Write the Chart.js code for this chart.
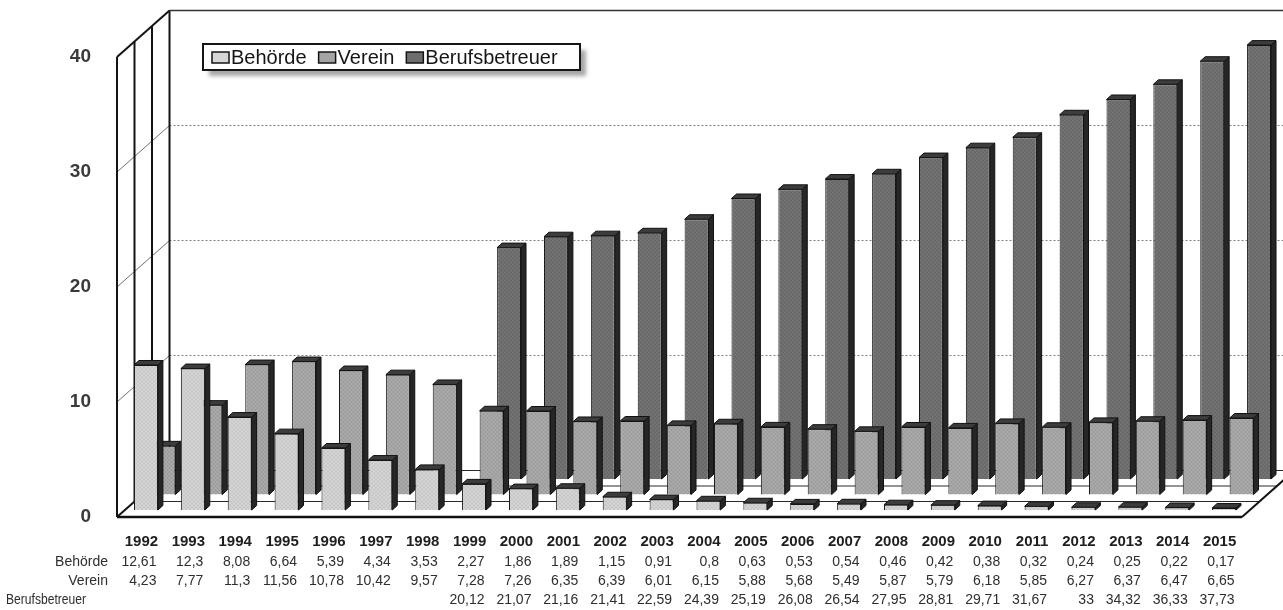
<!DOCTYPE html>
<html>
<head>
<meta charset="utf-8">
<script src="https://cdn.jsdelivr.net/npm/chart.js@4/dist/chart.umd.min.js"></script>
<style>
  html, body { margin: 0; padding: 0; background: #ffffff; }
  #wrap { width: 1283px; height: 610px; position: relative; }
</style>
</head>
<body>
<div id="wrap"><canvas id="c" width="1283" height="610"></canvas></div>
<script>
// Anteile je Betreuerart, 1992–2015 (Prozent)
const years = ['1992','1993','1994','1995','1996','1997','1998','1999','2000','2001','2002','2003',
               '2004','2005','2006','2007','2008','2009','2010','2011','2012','2013','2014','2015'];
const behoerde = [12.61, 12.3, 8.08, 6.64, 5.39, 4.34, 3.53, 2.27, 1.86, 1.89, 1.15, 0.91,
                  0.8, 0.63, 0.53, 0.54, 0.46, 0.42, 0.38, 0.32, 0.24, 0.25, 0.22, 0.17];
const verein = [4.23, 7.77, 11.3, 11.56, 10.78, 10.42, 9.57, 7.28, 7.26, 6.35, 6.39, 6.01,
                6.15, 5.88, 5.68, 5.49, 5.87, 5.79, 6.18, 5.85, 6.27, 6.37, 6.47, 6.65];
const berufsbetreuer = [null, null, null, null, null, null, null, 20.12, 21.07, 21.16, 21.41, 22.59,
                        24.39, 25.19, 26.08, 26.54, 27.95, 28.81, 29.71, 31.67, 33, 34.32, 36.33, 37.73];
const seriesNames = ['Behörde', 'Verein', 'Berufsbetreuer'];
const valueMin = 0, valueMax = 40, valueStep = 10;

// Depth geometry of the pseudo-3D frame (pixels per series row)
const ROW_DX = 17.5, ROW_DY = -15.5, ROWS = 3;
const BAR_DX = 5.5, BAR_DY = -7;          // first row bars sit slightly behind the front edge
const SIDE_DX = 5, SIDE_DY = -4.5;        // thickness of each column
const FONT = '"Liberation Sans", Arial, sans-serif';

function rowShift(i) { return [BAR_DX + ROW_DX * i, BAR_DY + ROW_DY * i]; }

// halftone-like fill for column faces
function texture(base, light, dark) {
  const c = document.createElement('canvas');
  c.width = 4; c.height = 4;
  const g = c.getContext('2d');
  g.fillStyle = base; g.fillRect(0, 0, 4, 4);
  g.fillStyle = dark; g.fillRect(0, 0, 1, 1); g.fillRect(2, 2, 1, 1);
  g.fillStyle = light; g.fillRect(2, 0, 1, 1); g.fillRect(0, 2, 1, 1);
  return g.createPattern(c, 'repeat');
}

const faceColors = ['#d6d6d6', '#a4a4a4', '#6e6e6e'];
const faceFills = [
  texture('#cfcfcf', '#dcdcdc', '#bdbdbd'),
  texture('#a4a4a4', '#b2b2b2', '#939393'),
  texture('#6e6e6e', '#7c7c7c', '#5f5f5f')
];

function seg(ctx, x1, y1, x2, y2) {
  ctx.beginPath(); ctx.moveTo(x1, y1); ctx.lineTo(x2, y2); ctx.stroke();
}
function poly(ctx, pts) {
  ctx.beginPath();
  ctx.moveTo(pts[0][0], pts[0][1]);
  for (let k = 1; k < pts.length; k++) ctx.lineTo(pts[k][0], pts[k][1]);
  ctx.closePath(); ctx.fill(); ctx.stroke();
}

// walls, floor and wall gridlines
const frame3d = {
  id: 'frame3d',
  beforeDatasetsDraw(chart) {
    const { ctx, chartArea: a, scales: { y } } = chart;
    const bx = ROW_DX * ROWS, by = ROW_DY * ROWS;
    const y0 = y.getPixelForValue(valueMin), yt = y.getPixelForValue(valueMax);
    ctx.save();
    ctx.lineWidth = 1;
    y.ticks.forEach(t => {
      if (t.value === valueMin || t.value === valueMax) return;
      const py = y.getPixelForValue(t.value);
      ctx.strokeStyle = '#808080';
      ctx.setLineDash([2, 2]);
      seg(ctx, a.left + bx, py + by, a.right + bx + 20, py + by);
      ctx.setLineDash([]);
      ctx.strokeStyle = '#707070';
      seg(ctx, a.left, py, a.left + bx, py + by);
    });
    // depth rows on the floor
    ctx.strokeStyle = '#2a2a2a'; ctx.lineWidth = 1.2;
    for (let r = 1; r <= ROWS; r++) {
      seg(ctx, a.left + ROW_DX * r, y0 + ROW_DY * r, a.right + ROW_DX * r, y0 + ROW_DY * r);
    }
    // depth rows on the side wall
    ctx.strokeStyle = '#141414'; ctx.lineWidth = 2;
    for (let r = 1; r < ROWS; r++) {
      seg(ctx, a.left + ROW_DX * r, y0 + ROW_DY * r, a.left + ROW_DX * r, yt + ROW_DY * r);
    }
    // outlines of the frame
    ctx.lineWidth = 2;
    seg(ctx, a.left, y0, a.left, yt);
    seg(ctx, a.left, yt, a.left + bx, yt + by);
    seg(ctx, a.left + bx, yt + by, a.left + bx, y0 + by);
    seg(ctx, a.left, y0, a.left + bx, y0 + by);
    seg(ctx, a.right, y0, a.right + bx, y0 + by);
    ctx.lineWidth = 1.5; ctx.strokeStyle = '#333';
    seg(ctx, a.left + bx, yt + by, a.right + bx + 20, yt + by);
    ctx.lineWidth = 2.5; ctx.strokeStyle = '#111';
    seg(ctx, a.left, y0, a.right, y0);
    ctx.restore();
  }
};

// each series sits on its own depth row; columns get a side and a top face
const bars3d = {
  id: 'bars3d',
  beforeDatasetDraw(chart, args) {
    const [dx, dy] = rowShift(args.index);
    chart.ctx.save();
    chart.ctx.translate(dx, dy);
  },
  afterDatasetDraw(chart, args) {
    const ctx = chart.ctx;
    const ds = chart.data.datasets[args.index];
    ctx.lineWidth = 1;
    ctx.strokeStyle = '#111';
    args.meta.data.forEach((bar, i) => {
      if (ds.data[i] == null) return;
      const { x, y, base, width } = bar.getProps(['x', 'y', 'base', 'width'], true);
      const l = x - width / 2, r = x + width / 2;
      ctx.fillStyle = '#262626';
      poly(ctx, [[r, y], [r + SIDE_DX, y + SIDE_DY], [r + SIDE_DX, base + SIDE_DY], [r, base]]);
      ctx.fillStyle = '#3c3c3c';
      poly(ctx, [[l, y], [l + SIDE_DX, y + SIDE_DY], [r + SIDE_DX, y + SIDE_DY], [r, y]]);
    });
    ctx.restore();
  }
};

// legend box and the data table under the plot
const legendAndTable = {
  id: 'legendAndTable',
  afterDraw(chart) {
    const ctx = chart.ctx;
    const xs = chart.scales.x;
    ctx.save();

    // legend
    const box = { x: 203, y: 44, w: 377, h: 26 };
    ctx.shadowColor = 'rgba(0,0,0,0.35)';
    ctx.shadowBlur = 4; ctx.shadowOffsetX = 6; ctx.shadowOffsetY = 6;
    ctx.fillStyle = '#ffffff';
    ctx.fillRect(box.x, box.y, box.w, box.h);
    ctx.shadowColor = 'transparent';
    ctx.lineWidth = 2; ctx.strokeStyle = '#151515';
    ctx.strokeRect(box.x, box.y, box.w, box.h);
    ctx.font = '20px ' + FONT;
    ctx.textBaseline = 'middle'; ctx.textAlign = 'left';
    let lx = box.x + 9;
    const cy = box.y + box.h / 2 + 0.5;
    chart.data.datasets.forEach((ds, i) => {
      ctx.fillStyle = faceColors[i];
      ctx.lineWidth = 1.5; ctx.strokeStyle = '#151515';
      ctx.fillRect(lx, cy - 5.5, 17, 11);
      ctx.strokeRect(lx, cy - 5.5, 17, 11);
      lx += 19;
      ctx.fillStyle = '#151515';
      ctx.fillText(ds.label, lx, cy + 1);
      lx += ctx.measureText(ds.label).width + 12;
    });

    // data table
    const rowY = [542, 562, 581, 600];
    ctx.textBaseline = 'middle';
    ctx.font = 'bold 15px ' + FONT;
    ctx.fillStyle = '#1e1e1e';
    ctx.textAlign = 'center';
    years.forEach((yr, i) => ctx.fillText(yr, xs.getPixelForValue(i) + 1, rowY[0]));

    ctx.font = '14px ' + FONT;
    ctx.fillStyle = '#2e2e2e';
    ctx.textAlign = 'right';
    ctx.fillText(seriesNames[0], 108, rowY[1]);
    ctx.fillText(seriesNames[1], 108, rowY[2]);
    ctx.textAlign = 'left';
    ctx.fillText(seriesNames[2], 6, rowY[3], 80);

    ctx.textAlign = 'right';
    chart.data.datasets.forEach((ds, r) => {
      ds.data.forEach((v, i) => {
        if (v == null) return;
        ctx.fillText(String(v).replace('.', ','), xs.getPixelForValue(i) + 16, rowY[r + 1]);
      });
    });
    ctx.restore();
  }
};

const seriesValues = [behoerde, verein, berufsbetreuer];

new Chart(document.getElementById('c'), {
  type: 'bar',
  data: {
    labels: years,
    datasets: seriesValues.map((vals, i) => ({
      label: seriesNames[i],
      data: vals,
      backgroundColor: faceFills[i],
      borderColor: '#1a1a1a',
      borderWidth: 1,
      grouped: false,
      categoryPercentage: 1,
      barPercentage: 0.51,
      clip: false
    }))
  },
  options: {
    responsive: false,
    animation: false,
    devicePixelRatio: 1,
    layout: { padding: { left: 0, right: 41, top: 57, bottom: 93 } },
    plugins: { legend: { display: false }, tooltip: { enabled: false }, title: { display: false } },
    scales: {
      x: { display: false, offset: true },
      y: {
        min: valueMin, max: valueMax,
        afterFit(scale) { scale.width = 117; },
        border: { display: false },
        grid: { display: false, drawTicks: false },
        ticks: {
          stepSize: valueStep,
          padding: 26,
          color: '#3a3a3a',
          font: { family: FONT, size: 19, weight: 'bold' }
        }
      }
    }
  },
  plugins: [frame3d, bars3d, legendAndTable]
});
</script>
</body>
</html>
